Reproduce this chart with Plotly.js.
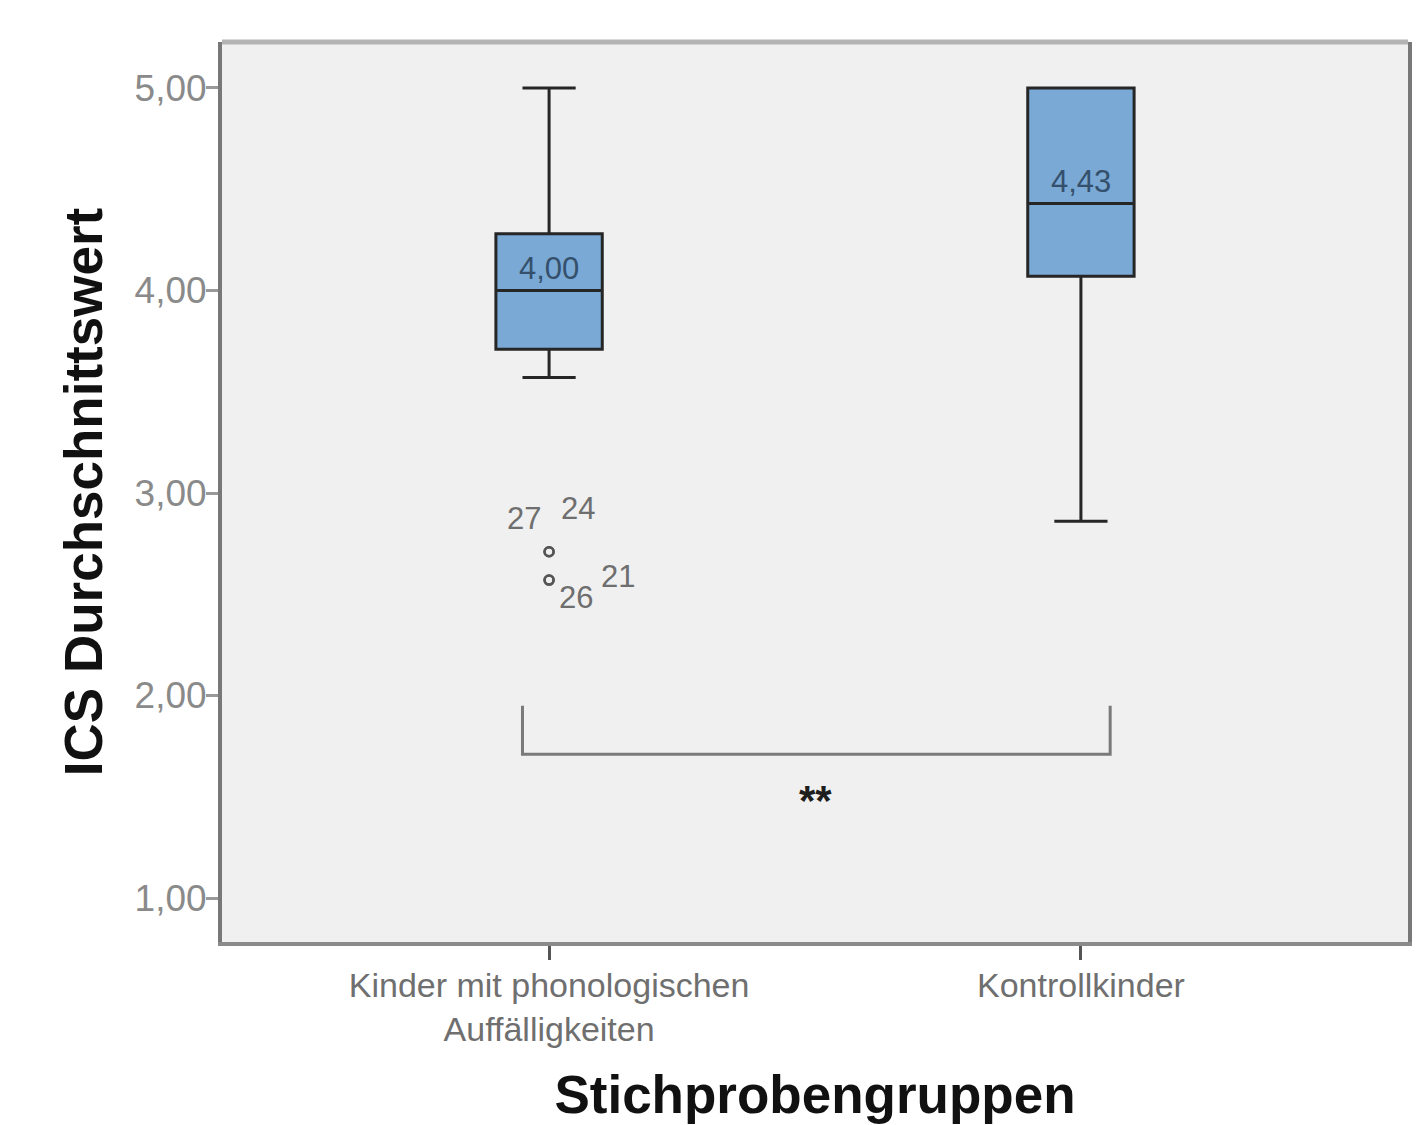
<!DOCTYPE html>
<html>
<head>
<meta charset="utf-8">
<script src="https://cdn.plot.ly/plotly-3.0.1.min.js"></script>
<style>html,body{margin:0;padding:0;background:#fff;}#chart{width:1418px;height:1125px;}</style>
</head>
<body>
<div id="chart"></div>
<script>
// ---- data ----
const categories = ['Kinder mit phonologischen<br>Auffälligkeiten', 'Kontrollkinder'];
const positions = [0, 1];
const lowerFence = [3.57, 2.86];
const q1 = [3.71, 4.07];
const median = [4.00, 4.43];
const q3 = [4.28, 5.00];
const upperFence = [5.00, 5.00];
const medianLabels = ['4,00', '4,43'];

const outlierX = [0, 0, 0, 0];
const outlierY = [2.71, 2.71, 2.57, 2.57];
const outlierIds = ['27', '24', '26', '21'];

const yTicks = [1, 2, 3, 4, 5];
const yTickText = yTicks.map(v => v.toFixed(2).replace('.', ','));

const bracketX = [-0.05, -0.05, 1.055, 1.055];
const bracketY = [1.95, 1.71, 1.71, 1.95];
const sigText = '**';
const sigPos = {x: 0.5, y: 1.48};

// ---- traces ----
const box = {
  type: 'box',
  x: positions,
  q1: q1, median: median, q3: q3,
  lowerfence: lowerFence, upperfence: upperFence,
  width: 0.2,
  whiskerwidth: 0.5,
  fillcolor: 'rgb(122,169,213)',
  line: {color: '#262626', width: 3},
  boxpoints: false,
  hoverinfo: 'skip',
  showlegend: false
};

const outliers = {
  type: 'scatter', mode: 'markers',
  x: outlierX, y: outlierY,
  marker: {symbol: 'circle-open', size: 9, color: '#555', line: {width: 2.5, color: '#555'}},
  showlegend: false, hoverinfo: 'skip'
};

const bracket = {
  type: 'scatter', mode: 'lines',
  x: bracketX, y: bracketY,
  line: {color: '#7a7a7a', width: 3},
  showlegend: false, hoverinfo: 'skip'
};

// ---- annotations ----
const annotations = [];
positions.forEach((p, i) => {
  annotations.push({
    x: p, y: median[i], xref: 'x', yref: 'y', text: medianLabels[i],
    showarrow: false, yanchor: 'bottom', yshift: 2,
    font: {family: 'Liberation Sans, Arial, sans-serif', size: 31, color: '#34506c'}
  });
});
const outlierOffsets = [
  {xa: 'right', ya: 'bottom', xs: -6, ys: 14},
  {xa: 'left', ya: 'bottom', xs: 10, ys: 24},
  {xa: 'left', ya: 'top', xs: 8, ys: 2},
  {xa: 'left', ya: 'bottom', xs: 50, ys: -16}
];
outlierIds.forEach((id, i) => {
  const o = outlierOffsets[i];
  annotations.push({
    x: outlierX[i], y: outlierY[i], xref: 'x', yref: 'y', text: id,
    showarrow: false, xanchor: o.xa, yanchor: o.ya, xshift: o.xs, yshift: o.ys,
    font: {family: 'Liberation Sans, Arial, sans-serif', size: 31, color: '#6e6e6e'}
  });
});
annotations.push({
  x: sigPos.x, y: sigPos.y, xref: 'x', yref: 'y', text: '<b>' + sigText + '</b>',
  showarrow: false, font: {family: 'Liberation Sans, Arial, sans-serif', size: 42, color: '#1e1e1e'}
});

const layout = {
  width: 1418, height: 1125,
  margin: {l: 222, r: 10, t: 42, b: 183, pad: 0},
  paper_bgcolor: '#ffffff',
  plot_bgcolor: '#f0f0f0',
  showlegend: false,
  xaxis: {
    range: [-0.615, 1.615],
    tickvals: positions, ticktext: categories,
    ticks: 'outside', ticklen: 14, tickwidth: 3, tickcolor: '#555',
    showgrid: false, zeroline: false,
    showline: true, linecolor: '#8a8a8a', linewidth: 4, mirror: false,
    ticklabelstandoff: -4,
    tickfont: {family: 'Liberation Sans, Arial, sans-serif', size: 34, color: '#6f6f6f'},
    title: {text: 'Stichprobengruppen', standoff: 30,
      font: {family: 'Liberation Sans, Arial, sans-serif', size: 53, color: '#111', weight: 'bold'}}
  },
  yaxis: {
    range: [0.783, 5.227],
    tickvals: yTicks, ticktext: yTickText,
    ticks: 'outside', ticklen: 12, tickwidth: 3, tickcolor: '#999',
    showgrid: false, zeroline: false,
    showline: true, linecolor: '#787878', linewidth: 4, mirror: true,
    ticklabelstandoff: -8,
    tickfont: {family: 'Liberation Sans, Arial, sans-serif', size: 37, color: '#8a8a8a'},
    title: {text: 'ICS Durchschnittswert', standoff: 16,
      font: {family: 'Liberation Sans, Arial, sans-serif', size: 53, color: '#111', weight: 'bold'}}
  },
  shapes: [
    {type: 'line', xref: 'paper', yref: 'paper', x0: 0, x1: 1, y0: 1, y1: 1,
     line: {color: '#b4b4b4', width: 5}}
  ],
  annotations: annotations
};

Plotly.newPlot('chart', [bracket, box, outliers], layout, {displayModeBar: false, staticPlot: true});
</script>
</body>
</html>
